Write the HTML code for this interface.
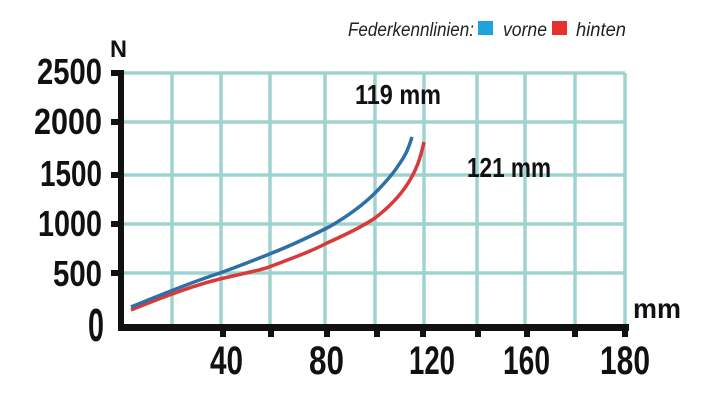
<!DOCTYPE html>
<html><head><meta charset="utf-8"><style>
html,body{margin:0;padding:0;background:#fff;}
svg{display:block;}
text{font-family:"Liberation Sans",sans-serif;}
</style></head><body>
<svg width="712" height="401" viewBox="0 0 712 401" xmlns="http://www.w3.org/2000/svg">
<rect width="712" height="401" fill="#fff"/>
<g stroke="#9fd3cf" stroke-width="3.5" fill="none">
<line x1="122" y1="73" x2="625" y2="73"/>
<line x1="122" y1="122" x2="625" y2="122"/>
<line x1="122" y1="175" x2="625" y2="175"/>
<line x1="122" y1="224" x2="625" y2="224"/>
<line x1="122" y1="273" x2="625" y2="273"/>
<line x1="172" y1="73" x2="172" y2="326"/>
<line x1="221" y1="73" x2="221" y2="326"/>
<line x1="270" y1="73" x2="270" y2="326"/>
<line x1="325" y1="73" x2="325" y2="326"/>
<line x1="375" y1="73" x2="375" y2="326"/>
<line x1="424" y1="73" x2="424" y2="326"/>
<line x1="477" y1="73" x2="477" y2="326"/>
<line x1="525" y1="73" x2="525" y2="326"/>
<line x1="575" y1="73" x2="575" y2="326"/>
<line x1="625" y1="73" x2="625" y2="326"/>
</g>
<path d="M131,310 C165,296 195,285 220,279 C245,273 262,270 269,267 C290,259 310,252 327,243 C345,235 362,227 375,218 C392,205 403,192 410,180 C416,170 420,160 424,142" stroke="#d83a3a" stroke-width="3.5" fill="none"/>
<path d="M131,307 C165,293 195,281 220,273 C245,264 262,257 272,253 C295,244 313,235 329,227 C348,216 362,206 375,193 C387,181 395,171 400,163 C405,156 408,150 412,137" stroke="#2f6fa8" stroke-width="3.5" fill="none"/>
<g fill="#111">
<rect x="118" y="70" width="6" height="261"/>
<rect x="118" y="324" width="511" height="7"/>
<rect x="111" y="70" width="10" height="6"/>
<rect x="111" y="119" width="10" height="6"/>
<rect x="111" y="172" width="10" height="6"/>
<rect x="111" y="221" width="10" height="6"/>
<rect x="111" y="270" width="10" height="6"/>
<rect x="220" y="326" width="6" height="11"/>
<rect x="268" y="326" width="6" height="11"/>
<rect x="324" y="326" width="6" height="11"/>
<rect x="374" y="326" width="6" height="11"/>
<rect x="420" y="326" width="6" height="11"/>
<rect x="475" y="326" width="6" height="11"/>
<rect x="524" y="326" width="6" height="11"/>
<rect x="572" y="326" width="6" height="11"/>
<rect x="622" y="326" width="6" height="11"/>
</g>
<g font-weight="bold" fill="#111" font-size="36">
<text x="37" y="84" textLength="65" lengthAdjust="spacingAndGlyphs">2500</text>
<text x="34" y="134" textLength="68" lengthAdjust="spacingAndGlyphs">2000</text>
<text x="40" y="186" textLength="62" lengthAdjust="spacingAndGlyphs">1500</text>
<text x="38" y="236" textLength="64" lengthAdjust="spacingAndGlyphs">1000</text>
<text x="53" y="286" textLength="49" lengthAdjust="spacingAndGlyphs">500</text>
<text x="88" y="341" font-size="46" textLength="16" lengthAdjust="spacingAndGlyphs">0</text>
<text x="110" y="57" font-size="24" textLength="17" lengthAdjust="spacingAndGlyphs">N</text>
<text x="210" y="374" font-size="40" textLength="33" lengthAdjust="spacingAndGlyphs">40</text>
<text x="309" y="374" font-size="40" textLength="35" lengthAdjust="spacingAndGlyphs">80</text>
<text x="409" y="374" font-size="40" textLength="46" lengthAdjust="spacingAndGlyphs">120</text>
<text x="503" y="374" font-size="40" textLength="47" lengthAdjust="spacingAndGlyphs">160</text>
<text x="600" y="374" font-size="40" textLength="50" lengthAdjust="spacingAndGlyphs">180</text>
<text x="633" y="318" font-size="28" textLength="48" lengthAdjust="spacingAndGlyphs">mm</text>
<text x="355" y="104" font-size="28" textLength="86" lengthAdjust="spacingAndGlyphs">119  mm</text>
<text x="467" y="177" font-size="28" textLength="84" lengthAdjust="spacingAndGlyphs">121  mm</text>
</g>
<g font-style="italic" fill="#222" font-size="19">
<text x="348" y="36" textLength="126" lengthAdjust="spacingAndGlyphs">Federkennlinien:</text>
<rect x="478" y="21" width="15" height="14" fill="#1fa3dc"/>
<text x="503" y="36" textLength="44" lengthAdjust="spacingAndGlyphs">vorne</text>
<rect x="552" y="21" width="15" height="14" fill="#e8302e"/>
<text x="576" y="36" textLength="50" lengthAdjust="spacingAndGlyphs">hinten</text>
</g>
</svg>
</body></html>
